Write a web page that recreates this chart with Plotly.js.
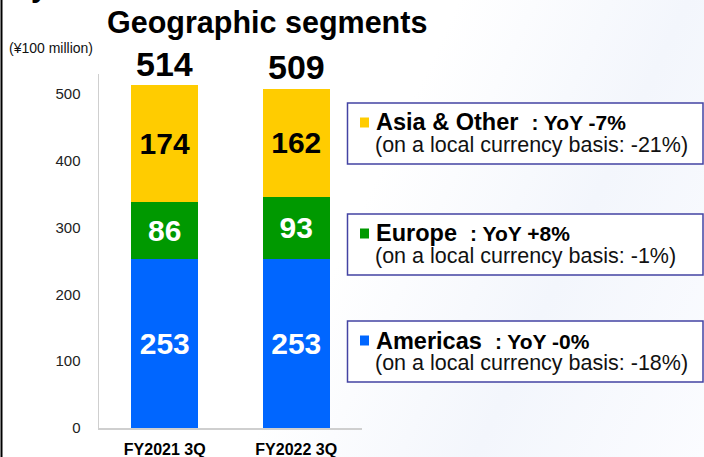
<!DOCTYPE html>
<html>
<head>
<meta charset="utf-8">
<script src="https://cdn.plot.ly/plotly-3.0.1.min.js"></script>
<style>
html,body{margin:0;padding:0;}
body{width:704px;height:457px;overflow:hidden;background:linear-gradient(115deg,#ffffff 50%,#f3f6fc 75%,#fbfcff 100%);}
#chart{width:704px;height:457px;}
</style>
</head>
<body>
<div id="chart"></div>
<script>
// ---- data ----
const categories = ['FY2021 3Q', 'FY2022 3Q'];
const americas = [253, 253];
const europe = [86, 93];
const asiaOther = [174, 162];
const totals = [514, 509];

const regionNames = ['Asia &amp; Other', 'Europe', 'Americas'];
const regionYoY = ['-7%', '+8%', '-0%'];
const regionLocal = ['-21%', '-1%', '-18%'];
const regionColors = ['#FFCC00', '#009900', '#0066FF'];

// ---- layout helpers (pixel -> paper) ----
const W = 704, H = 457;
const px = x => x / W;
const py = y => 1 - y / H;
const FONT = 'Liberation Sans, Arial, sans-serif';

const segFont = (c) => ({family: FONT, size: 30, color: c, weight: 'bold'});

const traces = [
  {type: 'bar', name: 'Americas', x: categories, y: americas, marker: {color: '#0066FF'},
   width: 0.51, texttemplate: '%{y}', textposition: 'inside', insidetextanchor: 'middle',
   textangle: 0, textfont: segFont('#ffffff'), hoverinfo: 'skip', showlegend: false},
  {type: 'bar', name: 'Europe', x: categories, y: europe, marker: {color: '#009900'},
   width: 0.51, texttemplate: '%{y}', textposition: 'inside', insidetextanchor: 'middle',
   textangle: 0, textfont: segFont('#ffffff'), hoverinfo: 'skip', showlegend: false},
  {type: 'bar', name: 'Asia & Other', x: categories, y: asiaOther, marker: {color: '#FFCC00'},
   width: 0.51, texttemplate: '%{y}', textposition: 'inside', insidetextanchor: 'middle',
   textangle: 0, textfont: segFont('#000000'), hoverinfo: 'skip', showlegend: false}
];

const annotations = [];
const shapes = [];

// totals above bars
categories.forEach((c, i) => {
  annotations.push({x: c, y: totals[i], xref: 'x', yref: 'y', text: String(totals[i]),
    showarrow: false, yanchor: 'bottom', yshift: 0,
    font: {family: FONT, size: 34, color: '#000', weight: 'bold'}});
});

// title, unit, fragment
annotations.push({xref: 'paper', yref: 'paper', x: px(267), y: py(22), xanchor: 'center', yanchor: 'middle',
  text: '<b>Geographic segments</b>', showarrow: false, font: {family: FONT, size: 30.5, color: '#000'}});
annotations.push({xref: 'paper', yref: 'paper', x: px(7), y: py(48), xanchor: 'left', yanchor: 'middle',
  text: '(¥100 million)', showarrow: false, font: {family: FONT, size: 14, color: '#111'}});
annotations.push({xref: 'paper', yref: 'paper', x: px(29), y: py(-13), xanchor: 'left', yanchor: 'middle',
  text: '<b>y</b>', showarrow: false, font: {family: FONT, size: 30, color: '#000'}});

// left border line
shapes.push({type: 'line', xref: 'paper', yref: 'paper', x0: px(1.5), x1: px(1.5), y0: 0, y1: 1,
  line: {color: '#000', width: 2}});

// region info boxes
const boxTops = [103, 214, 321];
const boxH = 61;
regionNames.forEach((n, i) => {
  const t = boxTops[i];
  shapes.push({type: 'rect', xref: 'paper', yref: 'paper', x0: px(347.5), x1: px(703), y0: py(t + boxH), y1: py(t),
    line: {color: '#4343a3', width: 1.5}, fillcolor: '#ffffff', layer: 'below'});
  const c1 = t + 19.5, c2 = t + 42;
  shapes.push({type: 'rect', xref: 'paper', yref: 'paper', x0: px(360), x1: px(369), y0: py(c1 + 5), y1: py(c1 - 5),
    line: {width: 0}, fillcolor: regionColors[i]});
  annotations.push({xref: 'paper', yref: 'paper', x: px(374), y: py(c1), xanchor: 'left', yanchor: 'middle',
    text: '<b>' + n + '\u00a0\u00a0</b><span style="font-size:21px"><b>: YoY ' + regionYoY[i] + '</b></span>',
    showarrow: false, font: {family: FONT, size: 23.5, color: '#000'}});
  annotations.push({xref: 'paper', yref: 'paper', x: px(373), y: py(c2), xanchor: 'left', yanchor: 'middle',
    text: '(on a local currency basis: ' + regionLocal[i] + ')',
    showarrow: false, font: {family: FONT, size: 21.5, color: '#111'}});
});

const layout = {
  width: W, height: H,
  margin: {l: 0, r: 0, t: 0, b: 0},
  paper_bgcolor: 'rgba(0,0,0,0)', plot_bgcolor: 'rgba(0,0,0,0)',
  barmode: 'stack',
  font: {family: FONT},
  xaxis: {domain: [px(99), px(362)], type: 'category', range: [-0.5, 1.5], showline: true,
    linecolor: '#cfcfcf', linewidth: 1.5, ticks: '', showgrid: false, zeroline: false,
    tickfont: {family: FONT, size: 16, color: '#000', weight: 'bold'}, ticklabelstandoff: 6},
  yaxis: {domain: [py(428), py(74)], range: [0, 530], showline: true, linecolor: '#cfcfcf', linewidth: 1.5,
    ticks: '', dtick: 100, showgrid: false, zeroline: false,
    tickfont: {family: FONT, size: 15, color: '#222'}, ticklabelstandoff: 14},
  shapes: shapes,
  annotations: annotations,
  showlegend: false
};

Plotly.newPlot('chart', traces, layout, {displayModeBar: false, staticPlot: true});
</script>
</body>
</html>
